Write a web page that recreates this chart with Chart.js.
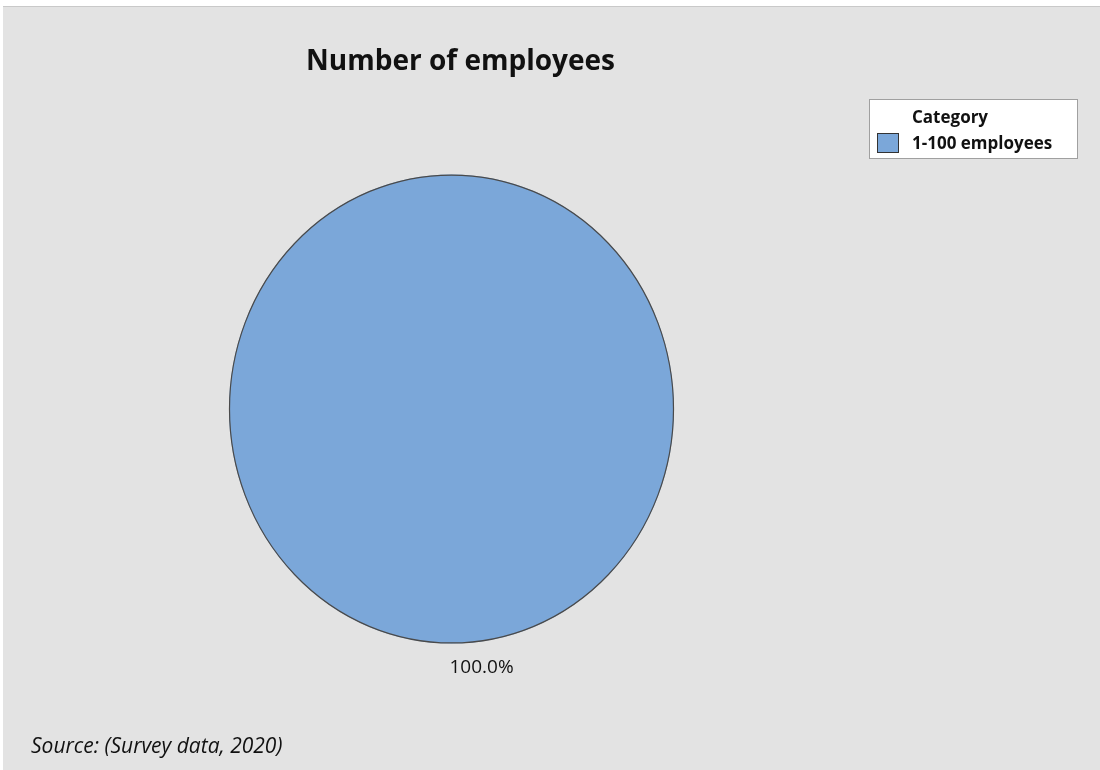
<!DOCTYPE html>
<html>
<head>
<meta charset="utf-8">
<script src="https://cdn.jsdelivr.net/npm/chart.js@4.4.0/dist/chart.umd.min.js"></script>
<style>
  html, body { margin: 0; padding: 0; background: #ffffff; }
  #panel {
    position: absolute; left: 3px; top: 6px; width: 1097px; height: 764px;
    background: #e3e3e3; border-top: 1px solid #c9c9c9; box-sizing: border-box;
  }
  #wrap { position: absolute; left: 0; top: 0; width: 1100px; height: 770px; }
</style>
</head>
<body>
<div id="panel"></div>
<div id="wrap"><canvas id="myChart"></canvas></div>
<script>
// chart data
const chartTitle = "Number of employees";
const legendTitle = "Category";
const categories = ["1-100 employees"];
const shares = [100];
const sliceColors = ["#7ba7d9"];
const sourceNote = "Source: (Survey data, 2020)";

const FONT = "'Open Sans', 'Noto Sans', sans-serif";
const Y_STRETCH = 234.5 / 222.5; // pie is drawn slightly taller than wide

// stretch the pie vertically around its centre, and draw its outline
const stretchPlugin = {
  id: "stretch",
  beforeDatasetsDraw(chart) {
    const arc = chart.getDatasetMeta(0).data[0];
    const ctx = chart.ctx;
    ctx.save();
    ctx.translate(arc.x, arc.y);
    ctx.scale(1, Y_STRETCH);
    ctx.translate(-arc.x, -arc.y);
  },
  afterDatasetsDraw(chart) {
    const ctx = chart.ctx;
    const meta = chart.getDatasetMeta(0);
    // outline only (a single full slice has no radial edges)
    meta.data.forEach(arc => {
      ctx.beginPath();
      ctx.arc(arc.x, arc.y, arc.outerRadius - 0.5, arc.startAngle, arc.endAngle);
      if (meta.data.length > 1) ctx.lineTo(arc.x, arc.y);
      ctx.closePath();
      ctx.lineWidth = 1.2;
      ctx.strokeStyle = "#4a4a4a";
      ctx.stroke();
    });
    ctx.restore();
  }
};

// title, slice labels, legend box and source note
const decorPlugin = {
  id: "decor",
  afterDraw(chart) {
    const ctx = chart.ctx;
    const meta = chart.getDatasetMeta(0);
    const total = shares.reduce((a, b) => a + b, 0);

    ctx.save();
    ctx.fillStyle = "#111";
    ctx.textBaseline = "alphabetic";

    // title
    ctx.font = "bold 28px " + FONT;
    ctx.textAlign = "center";
    ctx.fillText(chartTitle, meta.data[0].x + 9, 70);

    // percentage labels outside each slice
    ctx.font = "19px " + FONT;
    meta.data.forEach((arc, i) => {
      const mid = (arc.startAngle + arc.endAngle) / 2;
      const r = arc.outerRadius;
      const px = arc.x + Math.cos(mid) * r;
      const py = arc.y + Math.sin(mid) * r * Y_STRETCH;
      ctx.textAlign = Math.cos(mid) < -0.2 ? "right" : "left";
      const pct = (shares[i] / total * 100).toFixed(1) + "%";
      ctx.fillText(pct, px - 2, py + 29);
    });

    // legend
    const lx = 869, ly = 99, lw = 208, lh = 59;
    ctx.fillStyle = "#ffffff";
    ctx.fillRect(lx, ly, lw, lh);
    ctx.strokeStyle = "#a0a0a0";
    ctx.lineWidth = 1;
    ctx.strokeRect(lx + 0.5, ly + 0.5, lw, lh);
    ctx.fillStyle = "#111";
    ctx.font = "bold 17px " + FONT;
    ctx.textAlign = "left";
    ctx.fillText(legendTitle, 912, 123);
    categories.forEach((c, i) => {
      const y = 133 + i * 26;
      ctx.fillStyle = sliceColors[i];
      ctx.fillRect(877, y, 22, 20);
      ctx.strokeStyle = "#333";
      ctx.strokeRect(877.5, y + 0.5, 21, 19);
      ctx.fillStyle = "#111";
      ctx.fillText(c, 912, y + 16);
    });

    // source
    ctx.font = "italic 21px " + FONT;
    ctx.fillText(sourceNote, 31, 753);
    ctx.restore();
  }
};

new Chart(document.getElementById("myChart").getContext("2d"), {
  type: "pie",
  data: {
    labels: categories,
    datasets: [{
      data: shares,
      backgroundColor: sliceColors,
      borderWidth: 0
    }]
  },
  options: {
    responsive: true,
    maintainAspectRatio: false,
    animation: false,
    layout: { padding: { left: 229, right: 426, top: 186, bottom: 138 } },
    plugins: {
      legend: { display: false },
      tooltip: { enabled: false }
    }
  },
  plugins: [stretchPlugin, decorPlugin]
});
</script>
</body>
</html>
